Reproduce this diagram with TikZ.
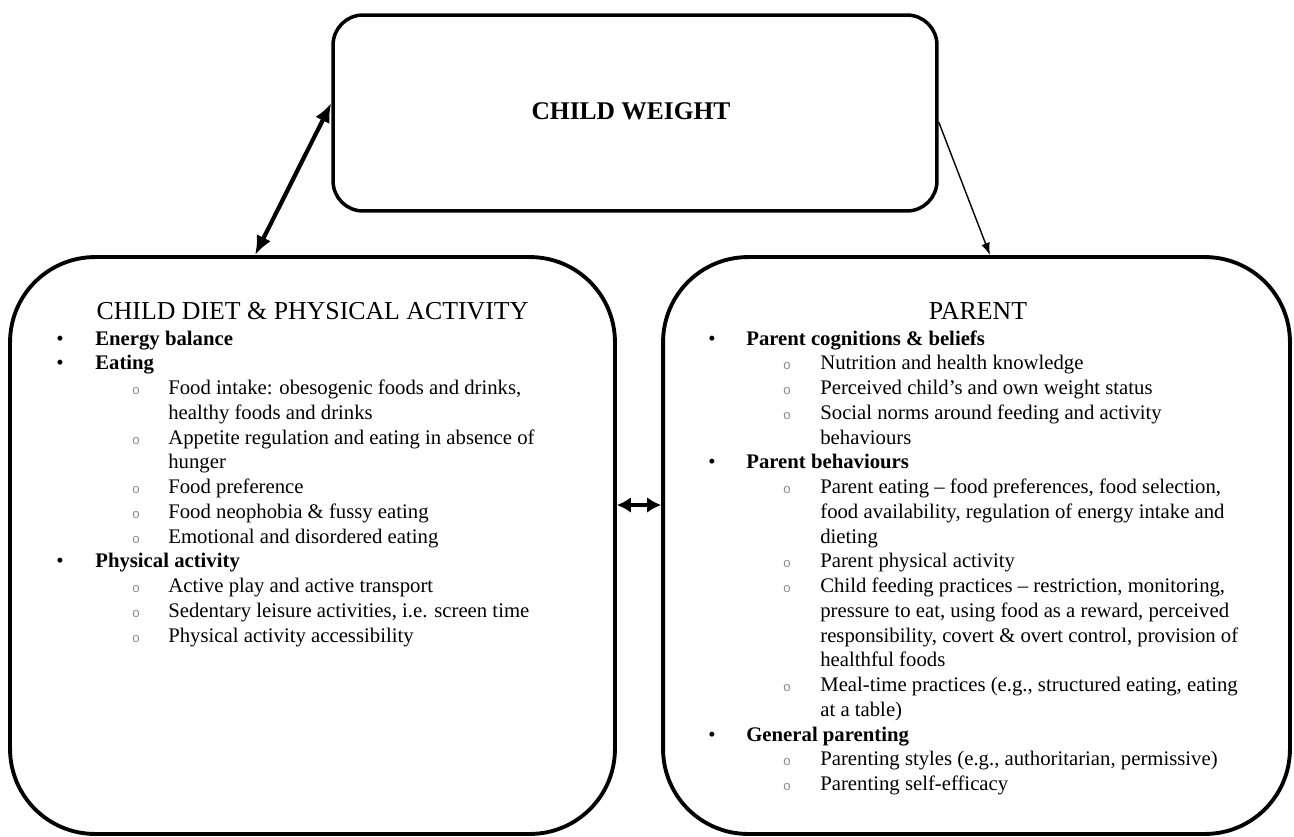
\documentclass[tikz,border=0pt]{standalone}
\usepackage{fontspec}
\setmainfont{Liberation Serif}
\newfontfamily\bulfont{Liberation Sans}
\usetikzlibrary{arrows.meta,calc}
\newcommand\bdyf{\fontsize{11.8}{13}\selectfont}
\newcommand\hdrf{\fontsize{14.7}{16}\selectfont}
\begin{document}
\begin{tikzpicture}[x=0.02cm,y=-0.02cm,
  every node/.style={inner sep=0pt},
  bigbox/.style={draw, line width=2.2pt, rounded corners=1.7cm, minimum height=11.54cm},
  topboxst/.style={draw, line width=2pt, rounded corners=0.6cm, minimum width=12.08cm, minimum height=3.92cm},
  hdr/.style={anchor=base, font=\hdrf},
  bul/.style={anchor=base, font=\bdyf},
  sbul/.style={anchor=base, font=\bulfont\fontsize{7.5}{7.5}\selectfont, text=black!45},
  itm/.style={anchor=base west, font=\bdyf\bfseries},
  txt/.style={anchor=base west, font=\bdyf},
  thickarr/.style={line width=2.4pt, {Latex[length=11pt,width=9pt]}-{Latex[length=11pt,width=9pt]}},
  thinarr/.style={line width=0.8pt, -{Latex[length=7pt,width=5pt]}},
  midarr/.style={line width=2pt, {Latex[length=8pt,width=9pt]}-{Latex[length=8pt,width=9pt]}}
]
\useasboundingbox (0,0) rectangle (1294,836);

% boxes
\node[topboxst] (topbox) at (635,113) {};
\node[bigbox, minimum width=12.1cm] (leftbox) at (312.5,545.5) {};
\node[bigbox, minimum width=12.54cm] (rightbox) at (976.5,545.5) {};

% top title
\node[anchor=base, font=\fontsize{14.5}{16}\selectfont\bfseries] (tw) at (631,119) {CHILD WEIGHT};

% connectors
\draw[thickarr] ($(leftbox.north)+(-57.5,0)$) -- ($(topbox.west)+(0,-10)$);
\draw[thinarr] ($(topbox.east)+(0,9)$) -- ($(rightbox.north)+(13.5,0)$);
\draw[midarr] ($(leftbox.east)+(0,-40.5)$) -- ($(rightbox.west)+(0,-40.5)$);

% left box content
\node[hdr] (lh) at (312.5,319) {CHILD DIET \& PHYSICAL ACTIVITY};
\node[bul] (lb1) at (60,345) {•};
\node[itm] (l1) at (95,345) {Energy balance};
\node[bul] (lb2) at (60,369.75) {•};
\node[itm] (l2) at (95,369.75) {Eating};
\node[sbul] (ls1) at (136,394.5) {o};
\node[txt] (l3) at (168,394.5) {Food intake: obesogenic foods and drinks,};
\node[txt] (l4) at (168,419.25) {healthy foods and drinks};
\node[sbul] (ls2) at (136,444) {o};
\node[txt] (l5) at (168,444) {Appetite regulation and eating in absence of};
\node[txt] (l6) at (168,468.75) {hunger};
\node[sbul] (ls3) at (136,493.5) {o};
\node[txt] (l7) at (168,493.5) {Food preference};
\node[sbul] (ls4) at (136,518.25) {o};
\node[txt] (l8) at (168,518.25) {Food neophobia \& fussy eating};
\node[sbul] (ls5) at (136,543) {o};
\node[txt] (l9) at (168,543) {Emotional and disordered eating};
\node[bul] (lb3) at (60,567.75) {•};
\node[itm] (l10) at (95,567.75) {Physical activity};
\node[sbul] (ls6) at (136,592.5) {o};
\node[txt] (l11) at (168,592.5) {Active play and active transport};
\node[sbul] (ls7) at (136,617.25) {o};
\node[txt] (l12) at (168,617.25) {Sedentary leisure activities, i.e. screen time};
\node[sbul] (ls8) at (136,642) {o};
\node[txt] (l13) at (168,642) {Physical activity accessibility};

% right box content
\node[hdr] (rh) at (978,319) {PARENT};
\node[bul] (rb1) at (712,345) {•};
\node[itm] (r1) at (746,345) {Parent cognitions \& beliefs};
\node[sbul] (rs1) at (787,369.75) {o};
\node[txt] (r2) at (820,369.75) {Nutrition and health knowledge};
\node[sbul] (rs2) at (787,394.5) {o};
\node[txt] (r3) at (820,394.5) {Perceived child’s and own weight status};
\node[sbul] (rs3) at (787,419.25) {o};
\node[txt] (r4) at (820,419.25) {Social norms around feeding and activity};
\node[txt] (r5) at (820,444) {behaviours};
\node[bul] (rb2) at (712,468.75) {•};
\node[itm] (r6) at (746,468.75) {Parent behaviours};
\node[sbul] (rs4) at (787,493.5) {o};
\node[txt] (r7) at (820,493.5) {Parent eating – food preferences, food selection,};
\node[txt] (r8) at (820,518.25) {food availability, regulation of energy intake and};
\node[txt] (r9) at (820,543) {dieting};
\node[sbul] (rs5) at (787,567.75) {o};
\node[txt] (r10) at (820,567.75) {Parent physical activity};
\node[sbul] (rs6) at (787,592.5) {o};
\node[txt] (r11) at (820,592.5) {Child feeding practices – restriction, monitoring,};
\node[txt] (r12) at (820,617.25) {pressure to eat, using food as a reward, perceived};
\node[txt] (r13) at (820,642) {responsibility, covert \& overt control, provision of};
\node[txt] (r14) at (820,666.75) {healthful foods};
\node[sbul] (rs7) at (787,691.5) {o};
\node[txt] (r15) at (820,691.5) {Meal-time practices (e.g., structured eating, eating};
\node[txt] (r16) at (820,716.25) {at a table)};
\node[bul] (rb3) at (712,741) {•};
\node[itm] (r17) at (746,741) {General parenting};
\node[sbul] (rs8) at (787,765.75) {o};
\node[txt] (r18) at (820,765.75) {Parenting styles (e.g., authoritarian, permissive)};
\node[sbul] (rs9) at (787,790.5) {o};
\node[txt] (r19) at (820,790.5) {Parenting self-efficacy};
\end{tikzpicture}
\end{document}
